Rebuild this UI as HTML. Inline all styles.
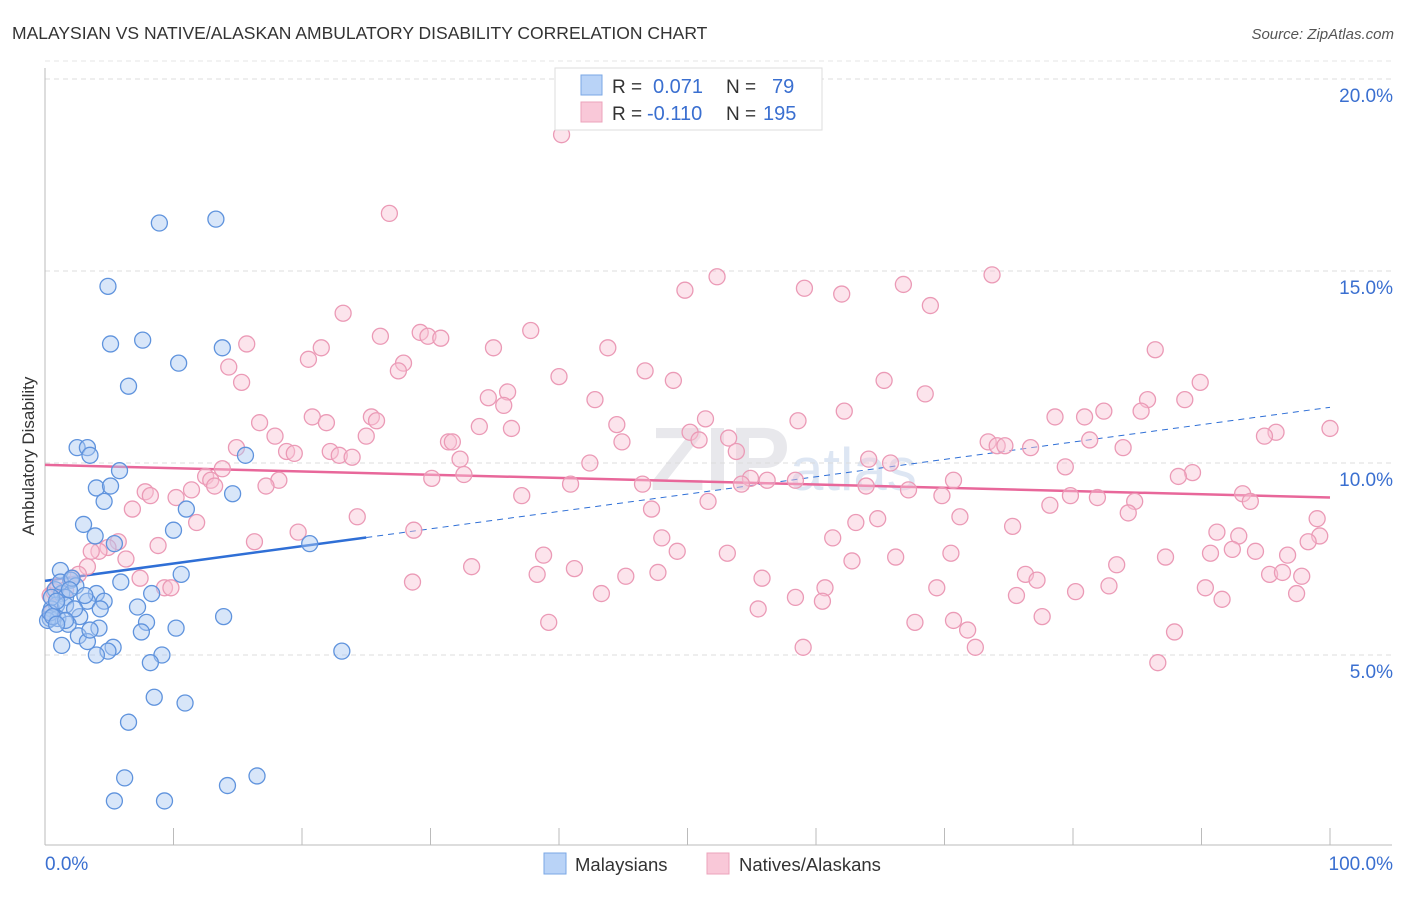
<!DOCTYPE html>
<html><head><meta charset="utf-8"><style>
body{margin:0;background:#fff;font-family:"Liberation Sans",sans-serif;}
svg text{font-family:"Liberation Sans",sans-serif;}
</style></head><body>
<svg id="chart" width="1406" height="892" xmlns="http://www.w3.org/2000/svg">
<text x="12" y="39" font-size="17.5" fill="#333">MALAYSIAN VS NATIVE/ALASKAN AMBULATORY DISABILITY CORRELATION CHART</text>
<text x="1394" y="39" font-size="15" fill="#555" font-style="italic" text-anchor="end">Source: ZipAtlas.com</text>
<text x="34" y="456" font-size="17" fill="#333" text-anchor="middle" transform="rotate(-90 34 456)">Ambulatory Disability</text>
<text x="650" y="490" font-size="90" fill="#e8e8ec" font-family="Liberation Serif" font-weight="bold">ZIP<tspan font-size="60" font-family="Liberation Sans" font-weight="normal" fill="#dde6f3">atlas</tspan></text>
<g id="grid"></g><g id="axes"></g><g id="trends"></g><g id="pts"></g>
<g>
<rect x="555" y="68" width="267" height="62" fill="#fff" stroke="#ddd"/>
<rect x="581" y="75" width="21" height="20" fill="#b9d3f7" stroke="#7aa7e5"/>
<text x="612" y="93" font-size="19" fill="#333">R = </text><text x="653" y="93" font-size="20" fill="#3a6fd0">0.071</text>
<text x="726" y="93" font-size="19" fill="#333">N = </text><text x="772" y="93" font-size="20" fill="#3a6fd0">79</text>
<rect x="581" y="102" width="21" height="20" fill="#f9c8d8" stroke="#eca3bb"/>
<text x="612" y="120" font-size="19" fill="#333">R = </text><text x="647" y="120" font-size="20" fill="#3a6fd0">-0.110</text>
<text x="726" y="120" font-size="19" fill="#333">N = </text><text x="763" y="120" font-size="20" fill="#3a6fd0">195</text>
</g>
<g>
<rect x="544" y="853" width="22" height="21" fill="#b9d3f7" stroke="#7aa7e5"/>
<text x="575" y="871" font-size="18.5" fill="#333">Malaysians</text>
<rect x="707" y="853" width="22" height="21" fill="#f9c8d8" stroke="#eca3bb"/>
<text x="739" y="871" font-size="18.5" fill="#333">Natives/Alaskans</text>
</g>
</svg>
<script>
const blueX=[8.9,13.3,4.9,5.1,7.6,13.8,10.4,6.5,2.5,3.3,3.5,5.8,4.0,5.1,4.6,14.6,15.6,11.0,3.0,10.0,3.9,5.4,20.6,1.2,10.6,2.0,5.9,2.4,0.8,1.3,8.3,4.0,1.6,4.6,3.3,0.9,7.2,0.5,2.7,13.9,0.4,1.0,0.2,7.9,1.8,4.2,10.2,7.5,2.6,3.3,1.3,5.3,4.9,4.0,9.1,23.1,8.2,8.5,10.9,6.5,6.2,16.5,5.4,9.3,14.2,0.5,1.2,2.1,0.4,1.6,1.9,0.9,0.6,4.3,3.5,2.3,1.6,0.9,3.1];
const blueY=[16.25,16.35,14.6,13.1,13.2,13.0,12.6,12.0,10.4,10.4,10.2,9.8,9.35,9.4,9.0,9.2,10.2,8.8,8.4,8.25,8.1,7.9,7.9,7.2,7.1,6.95,6.9,6.8,6.7,6.6,6.6,6.6,6.5,6.4,6.4,6.3,6.25,6.2,6.0,6.0,5.95,5.95,5.9,5.85,5.8,5.7,5.7,5.6,5.5,5.35,5.25,5.2,5.1,5.0,5.0,5.1,4.8,3.9,3.75,3.25,1.8,1.85,1.2,1.2,1.6,6.5,6.9,7.0,6.1,6.3,6.7,6.4,6.0,6.2,5.65,6.2,5.9,5.8,6.55];
const pinkX=[40.2,26.8,52.3,73.7,49.8,59.1,62.0,66.8,68.9,23.2,37.8,29.2,29.8,30.8,26.1,15.7,21.5,34.9,43.8,86.4,20.5,27.9,27.5,14.3,46.7,40.0,48.9,15.3,65.3,89.9,36.0,68.5,34.5,85.8,88.7,42.8,35.7,85.3,82.4,62.2,20.8,25.4,78.6,80.9,51.4,58.6,16.7,21.9,25.8,44.5,33.8,36.3,50.2,95.8,100,94.9,17.9,25.0,31.4,31.7,44.9,50.9,53.2,73.4,74.1,74.7,76.7,81.3,83.9,14.9,18.8,19.4,22.2,22.9,23.9,53.8,32.3,42.4,64.1,65.8,79.4,13.8,12.5,12.9,32.6,30.1,89.3,88.2,54.9,56.2,58.4,70.7,13.2,18.2,17.2,40.9,46.5,54.2,63.9,11.4,7.8,8.2,67.2,37.1,79.8,81.9,93.2,69.8,10.2,51.6,84.8,93.8,78.2,47.2,6.8,84.3,24.3,71.2,64.8,99.0,63.1,11.8,75.3,19.7,28.7,91.2,92.9,48.0,61.3,99.2,98.3,16.3,5.7,8.8,4.9,4.2,49.2,92.4,94.2,90.7,53.1,70.5,96.7,38.8,87.2,66.2,6.3,62.8,3.3,33.2,41.2,83.4,95.3,76.3,96.3,97.8,38.3,45.2,47.7,2.6,7.4,55.8,77.2,90.3,28.6,9.3,9.8,60.7,69.4,82.8,97.4,43.3,80.2,75.6,58.4,60.5,91.6,55.5,77.6,70.7,67.7,39.2,71.8,87.9,59.0,72.4,86.6,0.4,0.7,0.5,1.0,1.6,2.1,3.6];
const pinkY=[18.55,16.5,14.85,14.9,14.5,14.55,14.4,14.65,14.1,13.9,13.45,13.4,13.3,13.25,13.3,13.1,13.0,13.0,13.0,12.95,12.7,12.6,12.4,12.5,12.4,12.25,12.15,12.1,12.15,12.1,11.85,11.8,11.7,11.65,11.65,11.65,11.5,11.35,11.35,11.35,11.2,11.2,11.2,11.2,11.15,11.1,11.05,11.05,11.1,11.0,10.95,10.9,10.8,10.8,10.9,10.7,10.7,10.7,10.55,10.55,10.55,10.6,10.65,10.55,10.45,10.45,10.4,10.6,10.4,10.4,10.3,10.25,10.3,10.2,10.15,10.3,10.1,10.0,10.1,10.0,9.9,9.85,9.65,9.55,9.7,9.6,9.75,9.65,9.6,9.55,9.55,9.55,9.4,9.55,9.4,9.45,9.45,9.45,9.4,9.3,9.25,9.15,9.3,9.15,9.15,9.1,9.2,9.15,9.1,9.0,9.0,9.0,8.9,8.8,8.8,8.7,8.6,8.6,8.55,8.55,8.45,8.45,8.35,8.2,8.25,8.2,8.1,8.05,8.05,8.1,7.95,7.95,7.95,7.85,7.8,7.7,7.7,7.75,7.7,7.65,7.65,7.65,7.6,7.6,7.55,7.55,7.5,7.45,7.3,7.3,7.25,7.35,7.1,7.1,7.15,7.05,7.1,7.05,7.15,7.1,7.0,7.0,6.95,6.75,6.9,6.75,6.75,6.75,6.75,6.8,6.6,6.6,6.65,6.55,6.5,6.4,6.45,6.2,6.0,5.9,5.85,5.85,5.65,5.6,5.2,5.2,4.8,6.55,6.65,6.1,6.8,6.7,7.0,7.7];
const yTicks=[5,10,15,20];
const yTickLabels=["5.0%","10.0%","15.0%","20.0%"];
const xTicks=[0,10,20,30,40,50,60,70,80,90,100];
const blueTrend=[6.93,11.45];   // value at x=0, x=100
const blueSolidEnd=25;
const pinkTrend=[9.95,9.1];

const NS="http://www.w3.org/2000/svg";
const X=v=>45+v*12.85;
const Y=v=>847-v*38.4;
function mk(tag,attrs,parent){const e=document.createElementNS(NS,tag);for(const k in attrs)e.setAttribute(k,attrs[k]);parent.appendChild(e);return e;}
const grid=document.getElementById('grid'),axes=document.getElementById('axes'),tr=document.getElementById('trends'),pts=document.getElementById('pts');
yTicks.forEach((t,i)=>{
  const l=mk('line',{x1:45,x2:1392,y1:Y(t),y2:Y(t),stroke:'#dcdcdc','stroke-dasharray':'5,4'},grid);
  
  
  const tx=mk('text',{x:1393,y:Y(t)+23,'font-size':19,fill:'#3a6fd0','text-anchor':'end'},axes);
  tx.textContent=yTickLabels[i];
  
  
});
const tl=mk('line',{x1:45,x2:1392,y1:Y(20)-18,y2:Y(20)-18,stroke:'#e4e4e4','stroke-dasharray':'5,4'},grid);


const ya=mk('line',{x1:45,x2:45,y1:68,y2:845,stroke:'#bbb'},axes);


const xa=mk('line',{x1:45,x2:1392,y1:845,y2:845,stroke:'#bbb'},axes);


xTicks.forEach(t=>{
  const l=mk('line',{x1:X(t),x2:X(t),y1:828,y2:845,stroke:'#bbb'},axes);
  
  
});
const x0=mk('text',{x:45,y:870,'font-size':19,fill:'#3a6fd0'},axes);x0.textContent='0.0%';


const x1=mk('text',{x:1393,y:870,'font-size':19,fill:'#3a6fd0','text-anchor':'end'},axes);x1.textContent='100.0%';



function drawPts(xs,ys,fill,stroke,name){
  xs.forEach((x,i)=>{
    const c=mk('circle',{cx:X(x),cy:Y(ys[i]),r:8,fill:fill,'fill-opacity':0.45,stroke:stroke,'stroke-width':1.3},pts);
    
    
  });
}
drawPts(pinkX,pinkY,'#f9c3d5','#eb9ab6','native-point');
drawPts(blueX,blueY,'#a8c8f2','#5f93dd','malaysian-point');

const bv=x=>blueTrend[0]+(blueTrend[1]-blueTrend[0])*x/100;
const bd=mk('line',{x1:X(blueSolidEnd),y1:Y(bv(blueSolidEnd)),x2:X(100),y2:Y(bv(100)),stroke:'#2f6fd6','stroke-width':1,'stroke-dasharray':'6,5'},tr);


const bs=mk('line',{x1:X(0),y1:Y(bv(0)),x2:X(blueSolidEnd),y2:Y(bv(blueSolidEnd)),stroke:'#2f6fd6','stroke-width':2.5},tr);


const pl=mk('line',{x1:X(0),y1:Y(pinkTrend[0]),x2:X(100),y2:Y(pinkTrend[1]),stroke:'#e8679a','stroke-width':2.5},tr);


</script>
</body></html>
